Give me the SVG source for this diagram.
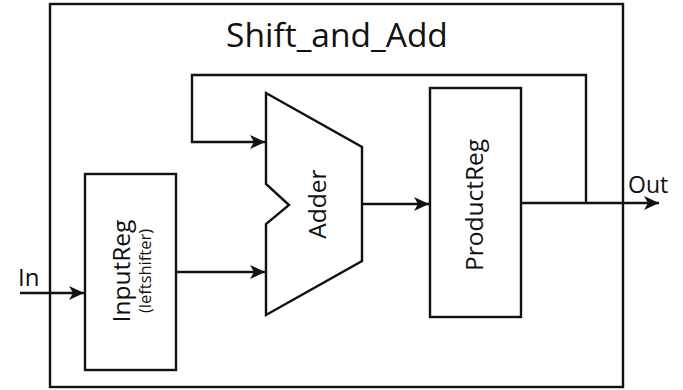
<svg xmlns="http://www.w3.org/2000/svg" width="683" height="390" viewBox="0 0 683 390">
  <style>
    .box { fill: #ffffff; stroke: #111111; stroke-width: 2.4; }
    .wire { fill: none; stroke: #111111; stroke-width: 2.4; }
    .lbl { font-family: "Open Sans", "DejaVu Sans", sans-serif; fill: #111111; }
  </style>
  <defs>
    <marker id="arrow" markerUnits="userSpaceOnUse" markerWidth="16" markerHeight="14" viewBox="0 0 16 14" refX="15" refY="7" orient="auto">
      <path d="M0,0 L15,7 L0,14 L4,7 z" fill="#111111"/>
    </marker>
  </defs>

  <rect width="683" height="390" fill="#ffffff"/>

  <!-- outer module boundary -->
  <g id="shift_and_add">
    <rect class="box" x="50" y="4" width="573" height="383"/>
    <text class="lbl" x="337" y="47" font-size="33.5" text-anchor="middle">Shift_and_Add</text>
  </g>

  <g id="input_reg">
    <rect class="box" x="85" y="174" width="91" height="196"/>
    <text class="lbl" x="130" y="271" font-size="24.5" text-anchor="middle" transform="rotate(-90 130 271)">InputReg</text>
    <text class="lbl" x="151" y="271" font-size="16.5" text-anchor="middle" transform="rotate(-90 151 271)">(leftshifter)</text>
  </g>

  <g id="adder">
    <polygon class="box" points="266,93 362,147 362,261 266,315 266,224 289,205 266,184"/>
    <text class="lbl" x="326" y="204" font-size="24.5" text-anchor="middle" transform="rotate(-90 326 204)">Adder</text>
  </g>

  <g id="product_reg">
    <rect class="box" x="430" y="88" width="91" height="229"/>
    <text class="lbl" x="483" y="205" font-size="24.5" text-anchor="middle" transform="rotate(-90 483 205)">ProductReg</text>
  </g>

  <g id="connectors">
    <path class="wire" d="M20,293 H84" marker-end="url(#arrow)"/>
    <path class="wire" d="M176,272 H265" marker-end="url(#arrow)"/>
    <path class="wire" d="M586,203 V75 H192 V142 H265" marker-end="url(#arrow)"/>
    <path class="wire" d="M362,204 H429" marker-end="url(#arrow)"/>
    <path class="wire" d="M521,203 H659" marker-end="url(#arrow)"/>
  </g>

  <g id="ports">
    <text class="lbl" x="18" y="286" font-size="24">In</text>
    <text class="lbl" x="628" y="193" font-size="23">Out</text>
  </g>
</svg>
